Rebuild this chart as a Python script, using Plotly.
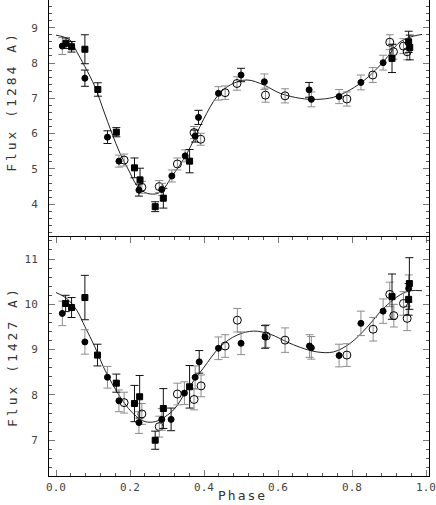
import plotly.graph_objects as go

# ---- top panel: Flux (1284 A) ----
t_fc_phase = [0.017, 0.078, 0.139, 0.170, 0.224, 0.286, 0.313, 0.349, 0.376, 0.385,
              0.439, 0.500, 0.563, 0.684, 0.690, 0.765, 0.824, 0.884]
t_fc_flux = [8.48, 7.57, 5.90, 5.22, 4.40, 4.42, 4.80, 5.37, 5.93, 6.46,
             7.14, 7.66, 7.47, 7.24, 6.97, 7.05, 7.45, 8.01]
t_fc_err = [0.24, 0.23, 0.18, 0.17, 0.17, 0.17, 0.17, 0.17, 0.17, 0.20,
            0.19, 0.19, 0.22, 0.21, 0.21, 0.20, 0.21, 0.21]
t_fc_dark = [0, 1, 1, 0, 1, 0, 0, 0, 1, 1, 0, 1, 0, 1, 0, 0, 0, 0]

t_sq_phase = [0.027, 0.042, 0.078, 0.113, 0.163, 0.212, 0.227, 0.268, 0.290, 0.361,
              0.908, 0.953, 0.956]
t_sq_flux = [8.56, 8.46, 8.39, 7.25, 6.04, 5.03, 4.69, 3.93, 4.17, 5.22, 8.13, 8.60, 8.44]
t_sq_err = [0.15, 0.15, 0.41, 0.19, 0.13, 0.28, 0.33, 0.14, 0.28, 0.33, 0.40, 0.30, 0.35]

t_oc_phase = [0.184, 0.232, 0.279, 0.328, 0.373, 0.391, 0.457, 0.489, 0.566, 0.619,
              0.786, 0.856, 0.902, 0.912, 0.939, 0.949]
t_oc_flux = [5.25, 4.48, 4.50, 5.14, 6.03, 5.84, 7.16, 7.42, 7.09, 7.07,
             6.98, 7.66, 8.59, 8.32, 8.48, 8.32]
t_oc_err = [0.17, 0.17, 0.17, 0.17, 0.17, 0.17, 0.19, 0.19, 0.20, 0.20,
            0.20, 0.21, 0.21, 0.21, 0.21, 0.23]

t_fit_phase = [0.0, 0.038, 0.056, 0.078, 0.105, 0.128, 0.151, 0.173, 0.196, 0.218,
               0.241, 0.268, 0.286, 0.313, 0.354, 0.398, 0.435, 0.471, 0.516, 0.561,
               0.606, 0.660, 0.705, 0.750, 0.795, 0.840, 0.885, 0.930, 0.966, 0.989]
t_fit_flux = [8.79, 8.65, 8.32, 7.90, 7.33, 6.67, 6.01, 5.44, 4.97, 4.54,
              4.33, 4.29, 4.38, 4.78, 5.44, 6.39, 7.05, 7.38, 7.52, 7.38,
              7.14, 7.00, 6.97, 7.03, 7.24, 7.57, 8.04, 8.60, 8.76, 8.81]

# ---- bottom panel: Flux (1427 A) ----
b_fc_phase = [0.017, 0.078, 0.139, 0.170, 0.224, 0.286, 0.311, 0.347, 0.376, 0.387,
              0.439, 0.500, 0.565, 0.685, 0.690, 0.765, 0.824, 0.884, 0.953]
b_fc_flux = [9.80, 9.17, 8.39, 7.87, 7.39, 7.46, 7.46, 8.04, 8.39, 8.73,
             9.03, 9.14, 9.28, 9.08, 9.04, 8.87, 9.58, 9.85, 10.35]
b_fc_err = [0.27, 0.27, 0.24, 0.24, 0.24, 0.24, 0.25, 0.25, 0.25, 0.25,
            0.25, 0.25, 0.25, 0.25, 0.25, 0.25, 0.27, 0.27, 0.30]
b_fc_dark = [0, 0, 0, 0, 0, 0, 1, 0, 0, 1, 0, 0, 1, 0, 0, 0, 0, 0, 0]

b_sq_phase = [0.026, 0.042, 0.078, 0.112, 0.163, 0.212, 0.226, 0.268, 0.290, 0.361,
              0.908, 0.955, 0.953]
b_sq_flux = [10.02, 9.93, 10.15, 8.88, 8.26, 7.81, 7.96, 7.00, 7.70, 8.18, 10.17, 10.46, 10.11]
b_sq_err = [0.18, 0.22, 0.49, 0.24, 0.20, 0.40, 0.47, 0.20, 0.44, 0.47, 0.50, 0.57, 0.35]

b_oc_phase = [0.184, 0.232, 0.279, 0.328, 0.373, 0.392, 0.457, 0.490, 0.568, 0.619,
              0.786, 0.857, 0.902, 0.913, 0.939, 0.949]
b_oc_flux = [7.83, 7.58, 7.30, 8.02, 7.90, 8.20, 9.08, 9.65, 9.30, 9.21,
             8.88, 9.45, 10.22, 9.75, 10.02, 9.69]
b_oc_err = [0.23, 0.23, 0.23, 0.24, 0.23, 0.24, 0.25, 0.26, 0.25, 0.27,
            0.25, 0.26, 0.27, 0.25, 0.26, 0.27]

b_fit_phase = [0.0, 0.029, 0.056, 0.078, 0.105, 0.128, 0.151, 0.173, 0.196, 0.218,
               0.241, 0.268, 0.295, 0.321, 0.354, 0.398, 0.443, 0.489, 0.534, 0.579,
               0.624, 0.660, 0.705, 0.750, 0.795, 0.840, 0.885, 0.930, 0.958, 0.989]
b_fit_flux = [10.26, 10.13, 9.87, 9.51, 9.06, 8.62, 8.26, 7.96, 7.70, 7.52,
              7.41, 7.41, 7.52, 7.70, 8.11, 8.59, 9.06, 9.32, 9.41, 9.34,
              9.17, 9.05, 8.95, 8.95, 9.14, 9.49, 9.91, 10.21, 10.30, 10.30]

DARK = "#111111"
GREY = "#8c8c8c"

fig = go.Figure()


def points(x, y, err, yax, symbol, size, errcol):
    if not x:
        return
    fig.add_trace(go.Scatter(
        x=x, y=y, mode="markers", yaxis=yax, xaxis="x",
        marker=dict(symbol=symbol, size=size, color="black",
                    line=dict(width=1, color="black")),
        error_y=dict(type="data", array=err, color=errcol, thickness=1, width=4),
        showlegend=False))


def split(x, y, e, flags, want):
    xs = [a for a, f in zip(x, flags) if f == want]
    ys = [a for a, f in zip(y, flags) if f == want]
    es = [a for a, f in zip(e, flags) if f == want]
    return xs, ys, es


for yax, fitx, fity, fc, sq, oc in [
    ("y2", t_fit_phase, t_fit_flux,
     (t_fc_phase, t_fc_flux, t_fc_err, t_fc_dark),
     (t_sq_phase, t_sq_flux, t_sq_err),
     (t_oc_phase, t_oc_flux, t_oc_err)),
    ("y", b_fit_phase, b_fit_flux,
     (b_fc_phase, b_fc_flux, b_fc_err, b_fc_dark),
     (b_sq_phase, b_sq_flux, b_sq_err),
     (b_oc_phase, b_oc_flux, b_oc_err)),
]:
    fig.add_trace(go.Scatter(x=fitx, y=fity, mode="lines", yaxis=yax, xaxis="x",
                             line=dict(color="#222", width=1, shape="spline", smoothing=1),
                             showlegend=False))
    points(*oc, yax, "circle-open", 8, GREY)
    points(*split(*fc, 0), yax, "circle", 6, GREY)
    points(*split(*fc, 1), yax, "circle", 6, DARK)
    points(*sq, yax, "square", 6, DARK)

tickfont = dict(family="DejaVu Sans Mono", size=11, color="#444")
axis_common = dict(showline=True, linecolor="black", linewidth=1, mirror="ticks",
                   ticks="inside", tickcolor="#777", ticklen=6, tickwidth=1,
                   showgrid=False, zeroline=False, tickfont=tickfont)

fig.update_layout(
    width=436, height=505,
    margin=dict(l=49, r=7, t=0, b=29),
    paper_bgcolor="white", plot_bgcolor="white",
    xaxis=dict(range=[-0.019, 1.008], dtick=0.2, tick0=0, tickformat=".1f",
               minor=dict(dtick=0.04, ticks="inside", ticklen=3, tickcolor="#555"),
               ticklabelstandoff=1, anchor="y", **axis_common),
    xaxis2=dict(range=[-0.019, 1.008], dtick=0.2, tick0=0, matches="x",
                showticklabels=False, anchor="y2", overlaying="x",
                minor=dict(dtick=0.04, ticks="inside", ticklen=3, tickcolor="#555"),
                **axis_common),
    yaxis=dict(domain=[0, 0.502], range=[6.21, 11.486], dtick=1, tick0=0,
               minor=dict(dtick=0.2, ticks="inside", ticklen=3, tickcolor="#555"),
               ticklabelstandoff=8, anchor="x", **axis_common),
    yaxis2=dict(domain=[0.502, 1], range=[3.07, 9.785], dtick=1, tick0=0,
                minor=dict(dtick=0.2, ticks="inside", ticklen=3, tickcolor="#555"),
                ticklabelstandoff=8, anchor="x", **axis_common),
)

title_font = dict(family="DejaVu Sans Mono", size=13, color="#333")
fig.add_annotation(text='<span style="letter-spacing:3px">Flux (1284 A)</span>',
                   xref="paper", yref="paper", x=0, y=0.786, xshift=-37,
                   textangle=-90, showarrow=False, font=title_font,
                   xanchor="center", yanchor="middle")
fig.add_annotation(text='<span style="letter-spacing:3px">Flux (1427 A)</span>',
                   xref="paper", yref="paper", x=0, y=0.25, xshift=-37,
                   textangle=-90, showarrow=False, font=title_font,
                   xanchor="center", yanchor="middle")
# x title squeezed into the gap between the 0.4 and 0.6 labels
fig.add_annotation(text='<span style="letter-spacing:2px">Phase</span>',
                   xref="paper", yref="paper", x=0.508, y=0, yshift=-29,
                   showarrow=False, font=dict(family="DejaVu Sans Mono", size=13, color="#333"),
                   xanchor="center", yanchor="bottom")

# page body has a default margin; drop it so the figure sits at the window corner
fig.write_html("out.html", config={"displayModeBar": False},
               post_script="document.body.style.margin='0';document.body.style.overflow='hidden';")
